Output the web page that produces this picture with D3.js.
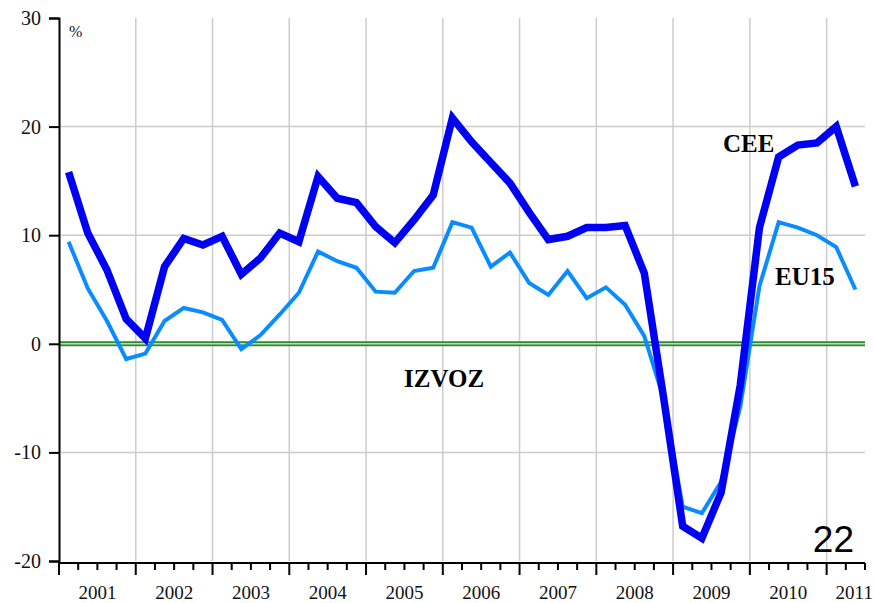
<!DOCTYPE html>
<html>
<head>
<meta charset="utf-8">
<script src="https://cdn.jsdelivr.net/npm/d3@7"></script>
<style>
	body { margin: 0; background: #fff; }
</style>
</head>
<body>
<svg id="chart" width="874" height="603"></svg>
<script>
'use strict';

// quarterly growth, 2001 Q1 .. 2011 Q2
const years = [2001, 2002, 2003, 2004, 2005, 2006, 2007, 2008, 2009, 2010, 2011];
const yTicks = [-20, -10, 0, 10, 20, 30];

const cee = [
	15.8, 10.2, 6.8, 2.3,
	0.5, 7.1, 9.7, 9.1,
	9.9, 6.4, 7.9, 10.2,
	9.4, 15.4, 13.4, 13.0,
	10.8, 9.3, 11.4, 13.7,
	20.8, 18.6, 16.7, 14.8,
	12.1, 9.6, 9.9, 10.7,
	10.7, 10.9, 6.5, -4.9,
	-16.8, -17.9, -13.7, -3.8,
	10.7, 17.2, 18.3, 18.5,
	20.0, 14.5
];

const eu15 = [
	9.4, 5.1, 2.1, -1.4,
	-0.9, 2.1, 3.3, 2.9,
	2.2, -0.5, 0.8, 2.7,
	4.7, 8.5, 7.6, 7.0,
	4.8, 4.7, 6.7, 7.0,
	11.2, 10.7, 7.1, 8.4,
	5.6, 4.5, 6.7, 4.2,
	5.2, 3.6, 0.7, -5.0,
	-15.0, -15.6, -12.7, -5.8,
	5.3, 11.2, 10.7, 10.0,
	8.9, 5.0
];

const nQuarters = 42;
const SERIF = "'Liberation Serif', 'DejaVu Serif', serif";

let svg = d3.select("#chart");

let x = d3.scaleLinear().domain([0, nQuarters]).range([59, 865]);
let y = d3.scaleLinear().domain([-20, 30]).range([561, 18]);

let yearStarts = years.map(function(d, i){ return i * 4; });

// grid
svg.append("g")
	.selectAll("line")
	.data([-10, 10, 20])
	.enter().append("line")
	.attr("x1", x(0)).attr("x2", x(nQuarters))
	.attr("y1", function(d){ return y(d); })
	.attr("y2", function(d){ return y(d); })
	.attr("stroke", "#cccccc").attr("stroke-width", 1.5);

svg.append("g")
	.selectAll("line")
	.data(yearStarts.slice(1))
	.enter().append("line")
	.attr("x1", function(d){ return x(d); })
	.attr("x2", function(d){ return x(d); })
	.attr("y1", y(30)).attr("y2", y(-20))
	.attr("stroke", "#cccccc").attr("stroke-width", 1.5);

// zero line (double green)
svg.append("line")
	.attr("x1", x(0)).attr("x2", x(nQuarters))
	.attr("y1", y(0)).attr("y2", y(0))
	.attr("stroke", "#2e8b2e").attr("stroke-width", 5);
svg.append("line")
	.attr("x1", x(0)).attr("x2", x(nQuarters))
	.attr("y1", y(0)).attr("y2", y(0))
	.attr("stroke", "#b8dcb8").attr("stroke-width", 1.5);

// y axis
let yAxis = d3.axisLeft(y)
	.tickValues(yTicks)
	.tickFormat(function(d){ return String(d); })
	.tickSize(10).tickPadding(8);
let gy = svg.append("g")
	.attr("transform", "translate(" + x(0) + ",0)")
	.call(yAxis);
gy.select(".domain").attr("stroke", "#000").attr("stroke-width", 2);
gy.selectAll(".tick line").attr("stroke", "#000").attr("stroke-width", 2);
gy.selectAll(".tick text")
	.style("font-family", SERIF)
	.style("font-size", "20px")
	.attr("fill", "#111");

// x axis with quarter ticks
let gx = svg.append("g").attr("transform", "translate(0," + (y(-20) + 2) + ")");
gx.append("line")
	.attr("x1", x(0) - 1).attr("x2", x(nQuarters))
	.attr("stroke", "#000").attr("stroke-width", 2);
gx.selectAll(".qtick")
	.data(d3.range(0, nQuarters + 1))
	.enter().append("line")
	.attr("x1", function(d){ return x(d); })
	.attr("x2", function(d){ return x(d); })
	.attr("y1", 0)
	.attr("y2", function(d){ return d % 4 == 0 ? 12 : 7; })
	.attr("stroke", "#000").attr("stroke-width", 2);
gx.selectAll(".ylabel")
	.data(years)
	.enter().append("text")
	.attr("x", function(d, i){
		let s = i * 4, e = Math.min(s + 4, nQuarters);
		// last year is only half shown
		return e - s < 4 ? x(s) + 9 : x((s + e) / 2);
	})
	.attr("text-anchor", function(d, i){ return i * 4 + 4 > nQuarters ? "start" : "middle"; })
	.attr("y", 36)
	.style("font-family", SERIF)
	.style("font-size", "19px")
	.attr("fill", "#111")
	.text(function(d){ return d; });

// series
let line = d3.line()
	.x(function(d, i){ return x(i + 0.5); })
	.y(function(d){ return y(d); });

svg.append("path")
	.datum(eu15)
	.attr("d", line)
	.attr("fill", "none")
	.attr("stroke", "#0a8cff")
	.attr("stroke-width", 4);

svg.append("path")
	.datum(cee)
	.attr("d", line)
	.attr("fill", "none")
	.attr("stroke", "#0000f5")
	.attr("stroke-width", 7.5);

// labels
svg.append("text").attr("x", 69).attr("y", 37)
	.style("font-family", SERIF).style("font-size", "16px")
	.attr("fill", "#111").text("%");

let bold = [
	{t: "CEE", x: 723, y: 152},
	{t: "EU15", x: 775, y: 285},
	{t: "IZVOZ", x: 404, y: 387}
];
svg.selectAll(".lbl")
	.data(bold)
	.enter().append("text")
	.attr("x", function(d){ return d.x; })
	.attr("y", function(d){ return d.y; })
	.style("font-family", SERIF)
	.style("font-size", "25px")
	.style("font-weight", "bold")
	.text(function(d){ return d.t; });

svg.append("text").attr("x", 854).attr("y", 552)
	.attr("text-anchor", "end")
	.style("font-family", "'Liberation Sans', Arial, sans-serif")
	.style("font-size", "37px").text("22");
</script>
</body>
</html>
